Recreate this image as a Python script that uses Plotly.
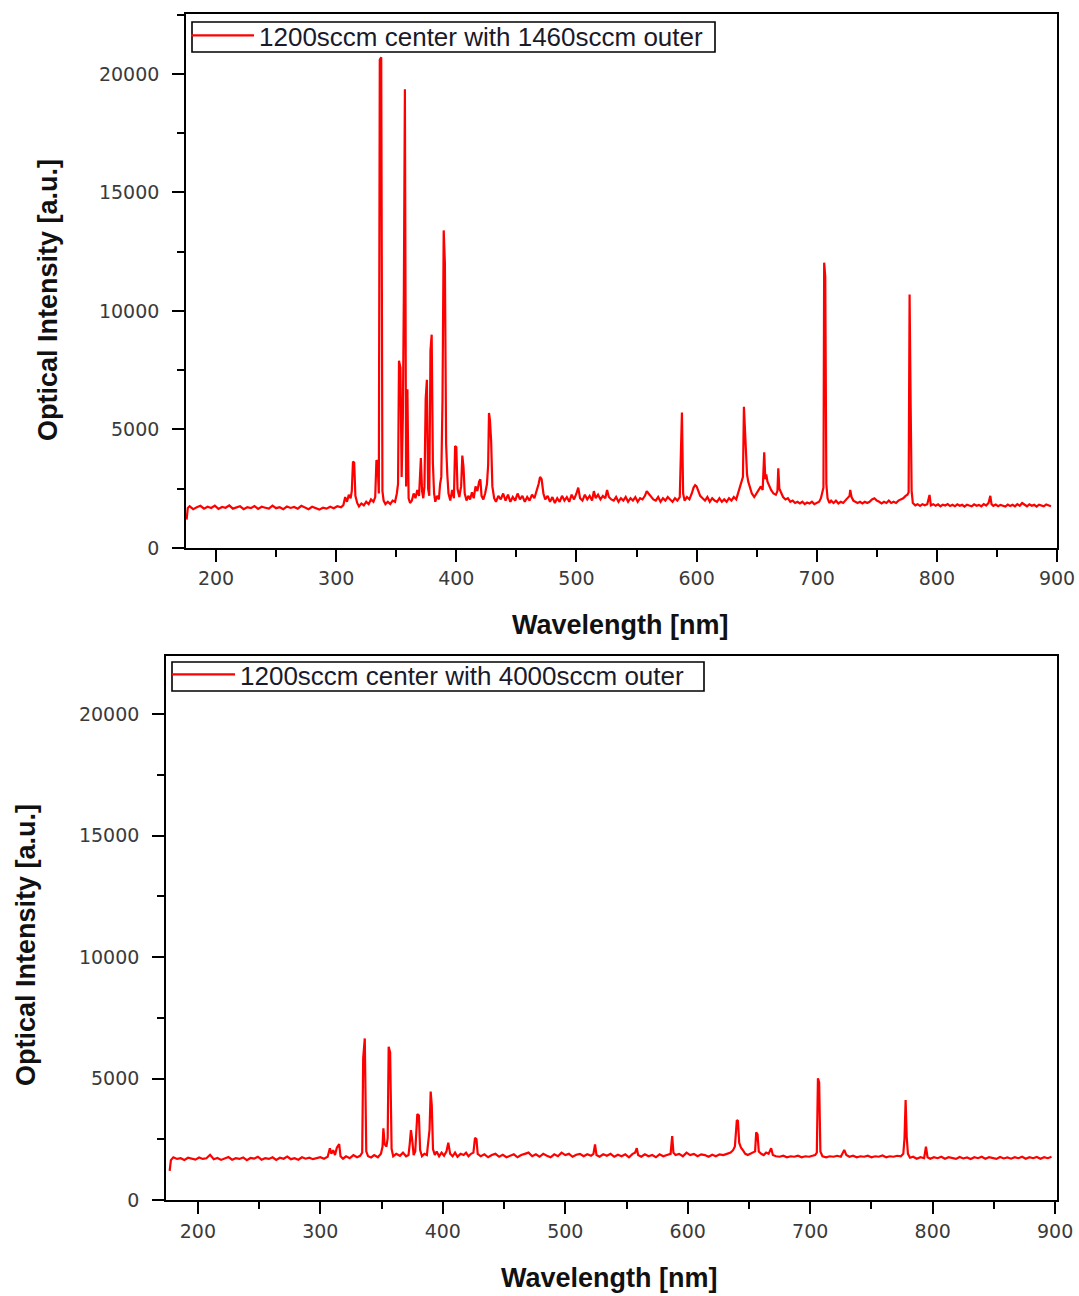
import plotly.graph_objects as go

# ---------------- data ----------------
top_label = "1200sccm center with 1460sccm outer"
bottom_label = "1200sccm center with 4000sccm outer"

top_wavelength = [
    175.5, 176.5, 178, 181, 184, 187, 190, 193, 196, 199, 202, 205, 208, 211, 214, 217, 220, 223, 226, 229,
    232, 235, 238, 241, 244, 247, 250, 253, 256, 259, 262, 265, 268, 271, 274, 277, 280, 283, 286, 289,
    292, 295, 298, 301, 304, 306,
    307.5, 309, 310.5, 312, 313, 314, 315, 316, 317.5, 319, 321, 323, 325, 327, 329, 331, 332.5, 333.5, 334.5, 335.5,
    336.3, 337.5, 338.5, 339.5, 341, 343, 345, 347, 349, 350.5, 351.5, 352.3, 353.5, 354.5, 355.5, 356.3, 357.2, 358.2,
    359.3, 360.3, 361.5, 363, 364.5, 366, 367.5, 369, 370.5, 371.5, 372.5, 373.5, 374.5, 375.5, 376.5, 377.5, 378.5,
    379.5, 380.5, 381.5, 382.5, 384, 385.5, 386.5, 387.5, 388.5, 389.5, 390.5, 391.5, 392.5, 393.5, 395, 396.5, 398,
    399, 400, 401, 402.5, 404, 405, 406, 407, 408.5, 410, 411.5, 413, 414.5, 416, 417.5, 419, 420, 421, 422.5, 424,
    425.5, 426.5, 427.2, 428, 429, 430, 431.5,
    433, 435, 437, 439, 441, 443, 445, 447, 449, 451, 453, 455, 457, 459, 461, 463, 465, 467, 468.5, 469.7, 471,
    472.5, 474, 476, 478, 480, 482, 484, 486, 488, 490, 492, 494, 496, 498, 500, 501.5, 503, 505, 507, 509, 511, 513,
    514.5, 516, 518, 520, 522, 524, 525.5, 527, 529, 531, 533, 535, 537, 539, 541, 543, 545, 547, 549, 551, 553, 555,
    557, 558.5, 560, 562, 564, 566, 568, 570, 572, 574, 576, 578, 580, 582, 584, 586, 587, 587.8, 588.8, 590, 592,
    594, 596, 597.5, 598.8, 600, 601.5, 603, 605, 607, 609, 611, 613, 615, 617, 619, 621, 623, 625, 627, 629, 631,
    633, 634.5, 636, 637.5, 638.6, 639.4, 640.3, 641.2, 642, 643, 644.5, 646, 648, 650, 652, 653.5, 655, 656.3,
    657.2, 658, 659, 660.5, 662, 664, 666, 667.3, 668, 668.9, 670.5, 672, 674, 676, 678, 680, 682, 684, 686, 688,
    690, 692, 694, 696, 698, 700, 702, 703.5, 705, 705.6, 706.2, 707.1, 708, 709, 710.5, 712, 714, 716, 718, 720,
    722, 724, 726, 727.3, 727.9, 729, 730.5, 732, 734, 736, 738, 740, 742, 744, 746, 748, 750, 752, 754, 756, 758,
    760, 762, 764, 766, 768, 770, 772, 774, 775.5, 776.5, 777.3, 778.2, 779, 780, 782, 784, 786, 788, 790, 792,
    793.9, 795, 797, 799, 801, 803, 805, 807, 809, 811, 813, 815, 817, 819, 821, 823, 825, 827, 829, 831, 833, 835,
    837, 839, 841, 843, 844.5, 845.5, 847, 849, 851, 853, 855, 857, 859, 861, 863, 865, 867, 869, 871, 873, 875,
    877, 879, 881, 883, 885, 887, 889, 891, 893, 895,
]
top_intensity = [
    1200, 1690, 1760, 1640, 1720, 1780, 1660, 1740, 1690, 1790, 1650, 1730, 1700, 1800, 1660, 1710, 1760, 1640, 1720, 1680,
    1770, 1650, 1740, 1700, 1660, 1790, 1680, 1720, 1640, 1750, 1690, 1730, 1660, 1780, 1700, 1640, 1740, 1690, 1620, 1700,
    1660, 1740, 1680, 1760, 1720, 1810,
    2150, 1950, 2250, 2100, 2400, 3650, 3600, 2200, 1900, 1750, 1880, 1800, 1950, 1850, 2050, 1950, 2150, 3700, 3650, 2300,
    20600, 20700, 2400, 2000, 1850, 1950, 1850, 2000, 1950, 2300, 2700, 7900, 7600, 3000, 5500, 10500, 19350, 2600,
    6700, 2100, 1900, 2000, 2300, 2100, 2450, 2200, 3800, 2400, 2100, 2600, 6300, 7100, 2500, 2200, 8350,
    9000, 3600, 2300, 1950, 2200, 2050, 2700, 3000, 6200, 13400, 12000, 4400, 3100, 2300, 2000, 2450, 2100,
    4300, 4250, 2500, 2150, 2600, 3900, 3400, 2300, 2000, 2200, 2050, 2350, 2100, 2600, 2400, 2800, 2900, 2200, 2050, 2300,
    2700, 3500, 5700, 5400, 4500, 2600, 2100,
    1950, 2200, 2050, 2300, 2000, 2250, 1950, 2150, 2000, 2300, 2050, 2200, 1950, 2150, 2000, 2250, 2100, 2400, 2700, 3000, 2900,
    2300, 2050, 2200, 1950, 2150, 1900, 2100, 1950, 2200, 2000, 2150, 1950, 2250, 2050, 2300, 2550, 2100, 2000, 2250, 2050, 2200, 2000,
    2400, 2100, 2250, 2050, 2200, 2100, 2450, 2150, 2050, 2000, 2150, 1950, 2100, 2000, 2150, 1950, 2100, 2000, 2150, 1950, 2100, 2050,
    2200, 2400, 2300, 2150, 2050, 2000, 2150, 1950, 2100, 2000, 2150, 2050, 1950, 2100, 2000, 2150, 4770, 5720, 2300, 2000, 2150,
    2050, 2300, 2550, 2650, 2600, 2400, 2200, 2100, 2000, 2150, 1950, 2100, 2000, 1950, 2100, 1950, 2050, 1950, 2100, 2000, 2150,
    2050, 2300, 2500, 2800, 3000, 5960, 4980, 3500, 3100, 2800, 2500, 2300, 2150, 2300, 2450, 2600, 2450, 4040,
    2900, 3100, 2800, 2600, 2450, 2300, 2250, 2400, 3360, 2500, 2300, 2150, 2050, 2100, 1950, 2000, 1900, 1950, 1880, 1950,
    1850, 1920, 1880, 1950, 1850, 1900, 1950, 2100, 2400, 2550, 12040, 11450, 2700, 2100, 1900, 2000, 1900, 2000, 1880, 1950,
    1900, 2000, 2100, 2200, 2450, 2150, 2000, 1950, 1900, 1950, 1880, 1950, 1900, 1950, 2050, 2100, 2000, 1950, 1880, 1950, 1900,
    2000, 1900, 1950, 1900, 2000, 2050, 2100, 2200, 2250, 2350, 10700, 5960, 2400, 1900, 1800, 1850, 1780, 1850, 1800, 1850,
    2240, 1800, 1850, 1780, 1840, 1760, 1830, 1790, 1850, 1770, 1820, 1760, 1840, 1780, 1820, 1750, 1830, 1790, 1760, 1840, 1780, 1820,
    1760, 1850, 1790, 1900, 2200, 1850, 1780, 1830, 1760, 1820, 1790, 1750, 1830, 1770, 1820, 1760, 1850, 1780, 1900, 1820, 1760,
    1840, 1780, 1820, 1750, 1830, 1790, 1760, 1840, 1800, 1760,
]

bottom_wavelength = [
    177, 178, 180, 183, 186, 189, 192, 195, 198, 201, 204, 207, 210, 213, 216, 219, 222, 225, 228, 231, 234, 237,
    240, 243, 246, 249, 252, 255, 258, 261, 264, 267, 270, 273, 276, 279, 282, 285, 288, 291, 294, 297, 300, 303, 306,
    307.8, 309, 310.5, 312, 313.5, 315.4, 316.5, 318.5, 321, 324, 327, 330, 332.5, 334.2, 335, 336.3, 337.5, 339,
    341.5, 344, 347, 349.5, 350.8, 351.5, 352.5, 354, 355, 355.8, 357, 358.2, 359.5, 362, 365, 367.5, 370, 372, 373,
    374, 375, 376.2, 377.5, 378.5, 379.2, 380.5, 381.5, 383, 385, 387, 388, 389.2, 390.1, 391, 392, 393.5, 395, 397,
    399, 401, 403, 404.5, 406, 408, 410, 412, 414.5, 417, 419, 421, 423, 425, 426.3, 427.5, 428.5, 431, 434, 437, 440,
    443, 446, 449, 452, 455, 458, 461, 464, 467, 470, 473, 476, 479, 482, 485, 488, 491, 494, 497, 500, 503, 506, 509,
    512, 515, 518, 521, 523, 524.3, 525.5, 528, 531, 534, 537, 540, 543, 546, 549, 552, 555, 557, 558.4, 559.5, 562,
    565, 568, 571, 574, 577, 580, 583, 586, 587.3, 588.3, 590, 593, 596, 599, 602, 605, 608, 611, 614, 617, 620, 623,
    626, 629, 632, 635, 637, 638.5, 640.1, 641, 642, 643.5, 645, 647, 649, 651, 653, 655, 655.9, 657, 658, 660, 662,
    664, 666, 668.1, 669.5, 672, 675, 678, 681, 684, 687, 690, 693, 696, 699, 702, 704, 705.4, 706.3, 707.3, 708.3,
    710, 713, 716, 719, 722, 725, 727.8, 729.5, 732, 735, 738, 741, 744, 747, 750, 753, 756, 759, 762, 765, 768, 771,
    774, 776, 777, 777.9, 778.8, 779.8, 781.5, 784, 787, 790, 793, 794.5, 795.8, 798, 801, 804, 807, 810, 813, 816,
    819, 822, 825, 828, 831, 834, 837, 840, 843, 846, 849, 852, 855, 858, 861, 864, 867, 870, 873, 876, 879, 882, 885,
    888, 891, 894, 897,
]
bottom_intensity = [
    1200, 1640, 1760, 1690, 1720, 1650, 1740, 1700, 1660, 1750, 1690, 1720, 1860, 1680, 1730, 1650, 1710, 1770, 1660, 1720, 1690, 1750,
    1640, 1730, 1700, 1780, 1660, 1720, 1690, 1760, 1650, 1740, 1700, 1790, 1680, 1720, 1660, 1760, 1700, 1740, 1680, 1730, 1760, 1700, 1780,
    2130, 1900, 2050, 1850, 2150, 2300, 1800, 1700, 1800, 1720, 1850, 1760, 1820, 1950, 5830, 6650, 2000, 1800,
    1750, 1850, 1760, 1900, 2200, 2950, 2300, 2200, 2550, 6310, 6080, 2100, 1800, 1900, 1820, 1950, 1800, 1850, 2300,
    2880, 2500, 1850, 2000, 2700, 3540, 3480, 2050, 1800, 1900, 1850, 2300, 2900, 4460, 3900, 2100, 1850, 2000, 1800,
    1950, 1820, 2000, 2360, 1900, 1800, 1950, 1780, 1900, 1850, 1950, 1800, 1900, 1950, 2560, 2500, 1900, 1800, 1880, 1760, 1850,
    1900, 1780, 1860, 1760, 1820, 1880, 1760, 1850, 1900, 1950, 1800, 1880, 1780, 1900, 1820, 1760, 1880, 1800, 1950, 1850, 1900, 1780, 1860,
    1900, 1800, 1880, 1820, 1900, 2290, 1850, 1780, 1880, 1820, 1900, 1780, 1860, 1800, 1880, 1760, 1900, 1950, 2130, 1850, 1780,
    1880, 1800, 1850, 1760, 1880, 1800, 1850, 1900, 2630, 1950, 1850, 1900, 1800, 1950, 1850, 1900, 1800, 1880, 1850, 1780, 1860, 1800,
    1880, 1850, 1900, 1950, 2050, 2200, 3290, 3250, 2360, 2150, 2050, 1900, 1850, 1900, 1950, 2000, 2790, 2700, 2000, 1900, 1850,
    1950, 1900, 2130, 1850, 1800, 1780, 1820, 1760, 1800, 1780, 1820, 1760, 1800, 1780, 1820, 1850, 1950, 5010, 4840, 2000,
    1800, 1760, 1800, 1780, 1820, 1780, 2060, 1850, 1780, 1820, 1760, 1800, 1780, 1820, 1760, 1800, 1780, 1830, 1760, 1800, 1780, 1820,
    1800, 1900, 2540, 4115, 2580, 1900, 1740, 1780, 1700, 1760, 1720, 2195, 1760, 1700, 1760, 1720, 1780, 1700, 1760, 1720,
    1690, 1770, 1710, 1750, 1690, 1760, 1720, 1780, 1700, 1760, 1720, 1690, 1770, 1710, 1750, 1700, 1760, 1720, 1780, 1700, 1760, 1720, 1770,
    1700, 1760, 1720, 1780,
]

x_tick_values = [200, 300, 400, 500, 600, 700, 800, 900]
x_tick_text = ["200", "300", "400", "500", "600", "700", "800", "900"]
y_tick_values = [0, 5000, 10000, 15000, 20000]
y_tick_text = ["0", "5000", "10000", "15000", "20000"]
x_title = "Wavelength [nm]"
y_title = "Optical Intensity [a.u.]"

# ---------------- figure ----------------
W, H = 1079, 1296
fig = go.Figure()

fig.add_trace(go.Scatter(x=top_wavelength, y=top_intensity, mode="lines", name=top_label,
                         line=dict(color="#ff0000", width=2.2), xaxis="x", yaxis="y", legend="legend"))
fig.add_trace(go.Scatter(x=bottom_wavelength, y=bottom_intensity, mode="lines", name=bottom_label,
                         line=dict(color="#ff0000", width=2.2), xaxis="x2", yaxis="y2", legend="legend2"))

tick_font = dict(family="DejaVu Sans", size=19, color="#3a3a3a")

def xaxis_style(domain, rng, anchor, standoff):
    return dict(domain=domain, range=rng, anchor=anchor, showline=True, linecolor="black", linewidth=1.6,
                mirror=True, ticks="outside", ticklen=12, tickwidth=1.6, tickcolor="black", automargin=False,
                tickvals=x_tick_values, ticktext=x_tick_text, showgrid=False, zeroline=False, tickfont=tick_font,
                ticklabelstandoff=standoff,
                minor=dict(ticks="outside", ticklen=7, tickwidth=1.6, tickcolor="black", dtick=50, tick0=0, showgrid=False))

def yaxis_style(domain, rng, anchor):
    return dict(domain=domain, range=rng, anchor=anchor, showline=True, linecolor="black", linewidth=1.6,
                mirror=True, ticks="outside", ticklen=12, tickwidth=1.6, tickcolor="black", automargin=False,
                tickvals=y_tick_values, ticktext=y_tick_text, showgrid=False, zeroline=False, tickfont=tick_font,
                ticklabelstandoff=9,
                minor=dict(ticks="outside", ticklen=7, tickwidth=1.6, tickcolor="black", dtick=2500, tick0=0, showgrid=False))

def px_x(p):
    return p / W

def px_y(p):
    return 1 - p / H

top_x_dom = [px_x(186), px_x(1057)]
top_y_dom = [px_y(548), px_y(14)]
bot_x_dom = [px_x(166), px_x(1057)]
bot_y_dom = [px_y(1200), px_y(656)]

legend_common = dict(bgcolor="rgba(255,255,255,0)", borderwidth=0,
                     font=dict(family="Liberation Sans", size=26, color="#1a1a2a"),
                     xanchor="left", yanchor="top", itemwidth=63, tracegroupgap=0)

fig.update_layout(
    width=W, height=H, margin=dict(l=0, r=0, t=0, b=0, autoexpand=False),
    paper_bgcolor="white", plot_bgcolor="white",
    xaxis=xaxis_style(top_x_dom, [175, 900], "y", 0),
    yaxis=yaxis_style(top_y_dom, [0, 22530], "x"),
    xaxis2=xaxis_style(bot_x_dom, [174, 901.5], "y2", 1),
    yaxis2=yaxis_style(bot_y_dom, [0, 22390], "x2"),
    legend=dict(x=px_x(186), y=px_y(12), **legend_common),
    legend2=dict(x=px_x(167), y=px_y(651), **legend_common),
    showlegend=True,
)

# legend frames
for (x0, y0, x1, y1) in [(192, 22, 715, 52), (172, 662, 704, 691)]:
    fig.add_shape(type="rect", xref="paper", yref="paper", x0=px_x(x0), x1=px_x(x1), y0=px_y(y1), y1=px_y(y0),
                  line=dict(color="black", width=1.6), fillcolor="rgba(0,0,0,0)", layer="above")

title_font = dict(family="Liberation Sans", size=27, color="#111111", weight="bold")
annots = [
    dict(x=px_x(620), y=px_y(625), text=x_title, textangle=0),
    dict(x=px_x(48), y=px_y(300), text=y_title, textangle=-90),
    dict(x=px_x(609), y=px_y(1278), text=x_title, textangle=0),
    dict(x=px_x(26), y=px_y(945), text=y_title, textangle=-90),
]
for a in annots:
    fig.add_annotation(xref="paper", yref="paper", xanchor="center", yanchor="middle", showarrow=False,
                       font=title_font, **a)

fig.write_html("out.html",
               post_script="document.body.style.margin='0px';document.body.style.overflow='hidden';")
